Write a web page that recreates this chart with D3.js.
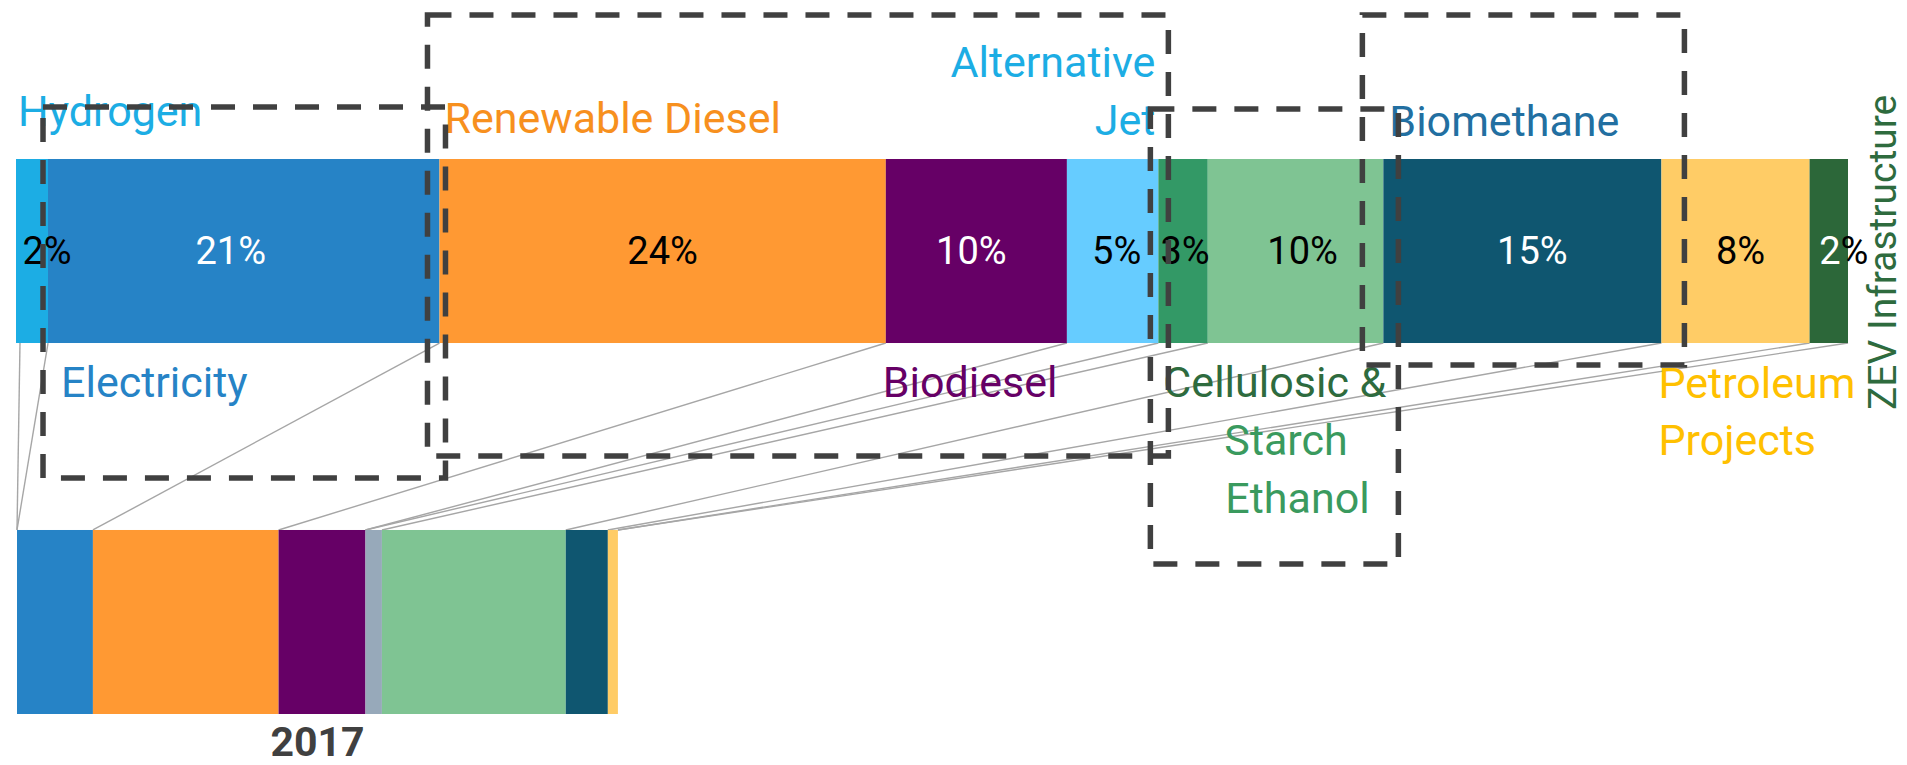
<!DOCTYPE html>
<html>
<head>
<meta charset="utf-8">
<script src="https://cdn.jsdelivr.net/npm/d3@7"></script>
<style>
  html, body { margin: 0; padding: 0; background: #ffffff; }
  svg { display: block; font-family: Roboto, "Open Sans", sans-serif; }
</style>
</head>
<body>
<svg id="chart" width="1907" height="765"></svg>
<script>
// ---------------- DATA ----------------
const categories = ["Hydrogen", "Electricity", "Renewable Diesel", "Biodiesel", "Alternative Jet",
  "Cellulosic Ethanol", "Starch Ethanol", "Biomethane", "Petroleum Projects", "ZEV Infrastructure"];
// projected share of credits (percent of the projected total)
const projectedShare = [1.75, 21.4, 24.4, 9.9, 5.0, 2.7, 9.6, 15.2, 8.1, 2.1];
const projectedLabels = ["2%", "21%", "24%", "10%", "5%", "3%", "10%", "15%", "8%", "2%"];

// 2017 bar, same units (percent of the projected total)
const categories2017 = ["Hydrogen", "Electricity", "Renewable Diesel", "Biodiesel", "Alternative Jet",
  "Other", "Cellulosic Ethanol", "Starch Ethanol", "Biomethane", "Petroleum Projects", "ZEV Infrastructure"];
const values2017 = [0, 4.15, 10.15, 4.75, 0, 0.9, 0, 10.05, 2.3, 0.55, 0];

const barNames = ["Projected", "2017"];
const yearLabel = "2017";

// ---------------- STYLE ----------------
const fillColor = {
  "Hydrogen": "#1CADE4", "Electricity": "#2683C6", "Renewable Diesel": "#FF9933",
  "Biodiesel": "#660066", "Alternative Jet": "#66CCFF", "Cellulosic Ethanol": "#339966",
  "Starch Ethanol": "#7FC493", "Biomethane": "#0F5670", "Petroleum Projects": "#FFCC66",
  "ZEV Infrastructure": "#2C6739", "Other": "#97A9BA"
};
// [number colour, percent-sign colour]
const pctColor = [["#000","#000"],["#fff","#fff"],["#000","#000"],["#fff","#fff"],["#000","#000"],
  ["#000","#000"],["#000","#000"],["#fff","#fff"],["#000","#000"],["#fff","#000"]];
const pctDx = [15, -13, 0, -5, 4, 2, 7, 10, 5, 15];

const svg = d3.select("#chart");

const total = d3.sum(projectedShare);
const x = d3.scaleLinear().domain([0, total]).range([16, 1848]);
const y = d3.scaleBand().domain(barNames).range([159, 714]).paddingInner(0.504);
const bw = y.bandwidth();

function stack(vals) {
  let c = 0;
  return vals.map(v => { const s = c; c += v; return { s, e: c, v }; });
}
const segTop = stack(projectedShare).map((d, i) => ({ ...d, name: categories[i], i }));
const segBot = stack(values2017).map((d, i) => ({ ...d, name: categories2017[i], i }));

// ---------------- CONNECTORS ----------------
const gLines = svg.append("g").attr("stroke", "#A6A6A6").attr("stroke-width", 1.4).attr("fill", "none");
const botEnd = name => segBot.find(b => b.name === name).e;
const conn = [{ t: 0, b: 0 }].concat(segTop.map(d => ({ t: d.e, b: botEnd(d.name) })));
gLines.selectAll("line").data(conn).join("line")
  .attr("x1", d => x(d.t) + (d.t === 0 ? 4 : 0))
  .attr("y1", y("Projected") + bw)
  .attr("x2", d => x(d.b) + 1)
  .attr("y2", y("2017"));

// ---------------- BARS ----------------
svg.append("g").selectAll("rect").data(segTop).join("rect")
  .attr("x", d => x(d.s)).attr("width", d => x(d.e) - x(d.s))
  .attr("y", y("Projected")).attr("height", bw)
  .attr("fill", d => fillColor[d.name]);

svg.append("g").selectAll("rect").data(segBot.filter(d => d.v > 0)).join("rect")
  .attr("x", d => x(d.s) + 1).attr("width", d => x(d.e) - x(d.s))
  .attr("y", y("2017")).attr("height", bw)
  .attr("fill", d => fillColor[d.name]);

// percent labels
const pl = svg.append("g").attr("font-size", 38).attr("text-anchor", "middle");
pl.selectAll("text").data(segTop).join("text")
  .attr("x", d => (x(d.s) + x(d.e)) / 2 + pctDx[d.i])
  .attr("y", y("Projected") + bw / 2 + 13)
  .each(function (d) {
    const t = d3.select(this);
    const lab = projectedLabels[d.i];
    t.append("tspan").attr("fill", pctColor[d.i][0]).text(lab.slice(0, -1));
    t.append("tspan").attr("fill", pctColor[d.i][1]).text("%");
  });

// year label
svg.append("text")
  .attr("x", (x(0) + x(d3.sum(values2017))) / 2 + 1)
  .attr("y", y("2017") + bw + 42)
  .attr("text-anchor", "middle").attr("font-size", 41).attr("font-weight", 700)
  .attr("fill", "#404040").text(yearLabel);

// ---------------- CATEGORY LABELS ----------------
const xs = i => x(segTop[i].s), xe = i => x(segTop[i].e);
const yT = y("Projected"), yB = y("Projected") + bw;
const catLabels = [
  { t: "Hydrogen", x: xs(0) + 2, y: yT - 33, c: "#1CADE4" },
  { t: "Renewable Diesel", x: xs(2) + 5, y: yT - 26, c: "#F7901E" },
  { t: "Alternative", x: xe(4) - 3, y: yT - 82, c: "#1CADE4", a: "end" },
  { t: "Jet", x: xe(4) - 3, y: yT - 24, c: "#1CADE4", a: "end" },
  { t: "Biomethane", x: xs(7) + 6, y: yT - 23, c: "#226FA1" },
  { t: "Electricity", x: xs(1) + 13, y: yB + 54, c: "#2683C6" },
  { t: "Biodiesel", x: xs(3) - 3, y: yB + 54, c: "#660066" },
  { t: "Cellulosic &", x: xs(5) + 5, y: yB + 54, c: "#2E6B3E" },
  { t: "Starch", x: xs(5) + 66, y: yB + 112, c: "#3A9A5E" },
  { t: "Ethanol", x: xs(5) + 67, y: yB + 170, c: "#3A9A5E" },
  { t: "Petroleum", x: xs(8) - 3, y: yB + 55, c: "#FFC000" },
  { t: "Projects", x: xs(8) - 3, y: yB + 112, c: "#FFC000" }
];
svg.append("g").attr("font-size", 43).selectAll("text").data(catLabels).join("text")
  .attr("x", d => d.x).attr("y", d => d.y)
  .attr("text-anchor", d => d.a || "start")
  .attr("fill", d => d.c).text(d => d.t);

svg.append("text")
  .attr("transform", `translate(${xe(9) + 48},410) rotate(-90)`)
  .attr("font-size", 39).attr("fill", "#2E6B3E").text("ZEV Infrastructure");

// ---------------- DASHED BOXES ----------------
const boxes = [
  { x0: xe(0) - 5, x1: xe(1) + 6, y0: 107, y1: 478 },
  { x0: xe(1) - 12, x1: xe(4) + 10, y0: 15, y1: 456 },
  { x0: xe(4) - 8, x1: xe(6) + 15, y0: 109, y1: 564 },
  { x0: xe(6) - 21, x1: xe(7) + 23, y0: 15, y1: 365 }
];
svg.append("g").selectAll("rect").data(boxes).join("rect")
  .attr("x", d => d.x0).attr("y", d => d.y0)
  .attr("width", d => d.x1 - d.x0).attr("height", d => d.y1 - d.y0)
  .attr("fill", "none").attr("stroke", "#404040").attr("stroke-width", 5.5)
  .attr("stroke-dasharray", "24 18");
</script>
</body>
</html>
